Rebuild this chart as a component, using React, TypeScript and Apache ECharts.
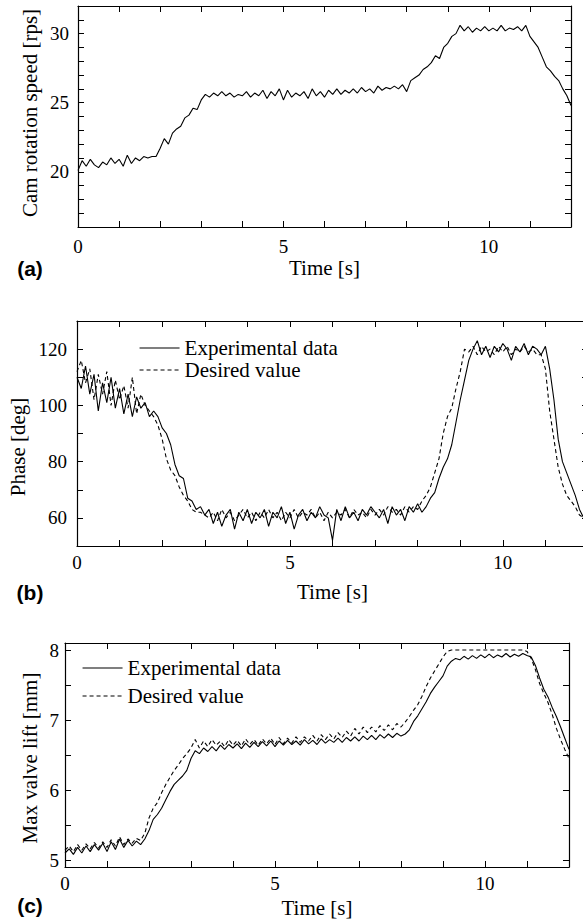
import React, { useEffect, useRef } from "react";
import * as echarts from "echarts";

const DT = 0.1;

// Panel (a): cam rotation speed [rps]
const camSpeed = [
  20.1, 20.8, 20.4, 20.9, 20.5, 20.3, 20.7, 20.5, 21.0, 20.6,
  20.9, 20.4, 21.2, 20.6, 21.0, 20.8, 21.1, 21.0, 21.1, 21.1,
  21.7, 22.4, 22.0, 22.8, 23.1, 23.3, 23.9, 24.1, 24.6, 24.5,
  25.2, 25.6, 25.4, 25.7, 25.5, 25.8, 25.5, 25.7, 25.4, 25.6,
  25.5, 25.8, 25.4, 25.7, 25.5, 25.9, 25.3, 25.8, 25.5, 26.0,
  25.2, 25.9, 25.4, 25.7, 25.5, 25.8, 25.3, 26.0, 25.5, 25.8,
  25.4, 25.9, 25.6, 26.0, 25.6, 25.9, 25.7, 26.0, 25.7, 26.1,
  25.8, 26.0, 25.7, 26.2, 25.9, 26.1, 26.0, 26.2, 26.0, 26.3,
  25.8, 26.6, 26.8, 27.0, 27.4, 27.6, 27.9, 28.4, 28.2, 29.0,
  29.3, 29.8, 30.0, 30.6, 30.2, 30.5, 30.1, 30.4, 30.2, 30.5,
  30.2, 30.4, 30.2, 30.6, 30.2, 30.4, 30.3, 30.5, 30.2, 30.6,
  29.8, 29.4, 29.0, 28.3, 27.6, 27.3, 26.9, 26.6, 26.0, 25.5,
  24.8,
];

// Panel (b): phase [deg]
const phaseExp = [
  110, 106, 114, 104, 111, 98, 108, 101, 110, 99,
  106, 97, 104, 96, 103, 99, 101, 96, 98, 96,
  92, 90, 86, 79, 75, 74, 67, 66, 63, 64,
  61, 63, 58, 62, 57, 61, 63, 56, 62, 59,
  63, 58, 62, 60, 63, 57, 62, 60, 64, 58,
  62, 56, 61, 63, 59, 62, 60, 64, 61, 60,
  52, 63, 59, 64, 60, 62, 59, 63, 61, 64,
  62, 60, 63, 58, 64, 61, 63, 59, 64, 62,
  65, 62, 64, 67, 69, 74, 78, 81, 86, 94,
  102, 109, 116, 120, 123, 118, 121, 117, 121, 119,
  122, 120, 116, 121, 119, 122, 118, 121, 120, 118,
  121, 113, 102, 88, 80, 76, 72, 68, 63, 60,
  58,
];
const phaseDes = [
  112, 116, 108, 113, 102, 111, 104, 112, 100, 109,
  102, 107, 99, 110, 97, 104, 100, 98, 96, 93,
  88, 81, 77, 75, 71, 68, 66, 63, 62, 62,
  61, 60, 62, 59, 63, 60, 62, 59, 61, 63,
  60, 62, 59, 62, 60, 63, 60, 62, 59, 62,
  60, 63, 60, 62, 61, 63, 60, 62, 59, 62,
  60, 62, 61, 63, 60, 63, 61, 62, 60, 63,
  61, 63, 61, 64, 62, 63, 61, 64, 62, 64,
  63, 66, 68, 71, 76, 81, 90, 96, 99, 106,
  112, 120, 119, 121, 118, 121, 119, 120, 118, 121,
  119, 121, 118, 120, 119, 121, 119, 120, 118, 118,
  113, 98, 88, 78, 72, 68, 66, 64, 61, 60,
  58,
];

// Panel (c): max valve lift [mm]
const liftExp = [
  5.10, 5.16, 5.08, 5.18, 5.10, 5.20, 5.12, 5.22, 5.14, 5.24,
  5.12, 5.26, 5.15, 5.30, 5.18, 5.28, 5.20, 5.27, 5.22, 5.30,
  5.42, 5.58, 5.65, 5.74, 5.86, 5.98, 6.08, 6.14, 6.20, 6.28,
  6.45, 6.56, 6.52, 6.60, 6.55, 6.62, 6.56, 6.64, 6.58, 6.65,
  6.60, 6.66, 6.59, 6.67, 6.61, 6.68, 6.62, 6.69, 6.63, 6.70,
  6.62, 6.70, 6.64, 6.71, 6.65, 6.70, 6.64, 6.72, 6.66, 6.71,
  6.65, 6.73, 6.67, 6.72, 6.68, 6.74, 6.68, 6.75, 6.70, 6.76,
  6.70, 6.77, 6.72, 6.78, 6.72, 6.79, 6.74, 6.80, 6.75, 6.81,
  6.77, 6.80, 6.86, 6.98, 7.06, 7.16, 7.26, 7.38, 7.47, 7.55,
  7.63, 7.77, 7.84, 7.88, 7.86, 7.91, 7.87, 7.92, 7.88, 7.93,
  7.89, 7.94, 7.89, 7.93, 7.90, 7.95, 7.90, 7.94, 7.91, 7.95,
  7.92, 7.90, 7.78, 7.60, 7.44, 7.33, 7.18, 7.05, 6.90, 6.74,
  6.58,
];
const liftDes = [
  5.14, 5.20, 5.12, 5.22, 5.14, 5.23, 5.16, 5.25, 5.17, 5.26,
  5.18, 5.29, 5.20, 5.33, 5.22, 5.30, 5.24, 5.31, 5.28, 5.38,
  5.60, 5.74, 5.82, 5.96, 6.08, 6.18, 6.28, 6.36, 6.45, 6.52,
  6.60, 6.72, 6.60, 6.70, 6.62, 6.72, 6.64, 6.70, 6.62, 6.72,
  6.64, 6.71, 6.63, 6.73, 6.65, 6.72, 6.64, 6.73, 6.66, 6.74,
  6.65, 6.75, 6.66, 6.74, 6.67, 6.76, 6.68, 6.76, 6.70, 6.78,
  6.70, 6.79, 6.72, 6.80, 6.73, 6.82, 6.75, 6.84, 6.77, 6.88,
  6.80, 6.90, 6.82, 6.90, 6.83, 6.92, 6.85, 6.93, 6.86, 6.95,
  6.90, 6.97, 7.05, 7.14, 7.22, 7.34, 7.48, 7.60, 7.70, 7.80,
  7.90, 7.98, 8.00, 8.00, 8.00, 8.00, 8.00, 8.00, 8.00, 8.00,
  8.00, 8.00, 8.00, 8.00, 8.00, 8.00, 8.00, 8.00, 8.00, 8.00,
  7.98, 7.88, 7.72, 7.52, 7.38, 7.25, 7.08, 6.88, 6.72, 6.58,
  6.45,
];

const timeLabels = [0, 5, 10];
const timeTicks = [0, 1, 2, 3, 4, 5, 6, 7, 8, 9, 10, 11, 12];
const speedLabels = [20, 25, 30];
const speedTicks = [16, 17, 18, 19, 20, 21, 22, 23, 24, 25, 26, 27, 28, 29, 30, 31, 32];
const phaseLabels = [60, 80, 100, 120];
const phaseTicks = [50, 60, 70, 80, 90, 100, 110, 120, 130];
const liftLabels = [5, 6, 7, 8];
const liftTicks = [5, 5.5, 6, 6.5, 7, 7.5, 8];

const SERIF = "'Liberation Serif', 'Times New Roman', serif";
const SANS = "'Liberation Sans', Arial, sans-serif";
const BLACK = "#000";

function toXY(arr: number[]) {
  return arr.map((v, i) => [Math.round(i * DT * 10) / 10, v]);
}

export default function App() {
  const ref = useRef<HTMLDivElement>(null);

  useEffect(() => {
    if (!ref.current) return;
    const chart = echarts.init(ref.current, null, { renderer: "svg" });

    const grids = [
      { left: 78, top: 6, width: 493, height: 221 },
      { left: 77, top: 321, width: 511, height: 225 },
      { left: 65, top: 643, width: 504, height: 224 },
    ].map((g) => ({ ...g, outerBoundsMode: "none", containLabel: false }));

    const axisLine = { show: true, onZero: false, lineStyle: { color: BLACK, width: 1.2 } };
    const tick = (vals: number[]) => ({
      show: true,
      inside: true,
      length: 6,
      customValues: vals,
      lineStyle: { color: BLACK, width: 1 },
    });
    const labelStyle = { fontFamily: SERIF, fontSize: 19, color: BLACK };

    const xBottom = (gi: number, margin: number, nameGap: number) => ({
      type: "value",
      gridIndex: gi,
      position: "bottom",
      min: 0,
      max: 12,
      axisLine,
      axisTick: tick(timeTicks),
      axisLabel: { ...labelStyle, margin, customValues: timeLabels },
      splitLine: { show: false },
      name: "Time [s]",
      nameLocation: "middle",
      nameGap,
      nameTextStyle: { fontFamily: SERIF, fontSize: 21, color: BLACK },
    });
    const xTop = (gi: number) => ({
      type: "value",
      gridIndex: gi,
      position: "top",
      min: 0,
      max: 12,
      axisLine,
      axisTick: tick(timeTicks),
      axisLabel: { show: false },
      splitLine: { show: false },
    });
    const yLeft = (gi: number, min: number, max: number, labels: number[], ticks: number[], margin: number) => ({
      type: "value",
      gridIndex: gi,
      position: "left",
      min,
      max,
      axisLine,
      axisTick: tick(ticks),
      axisLabel: { ...labelStyle, margin, customValues: labels },
      splitLine: { show: false },
    });
    const yRight = (gi: number, min: number, max: number, ticks: number[]) => ({
      type: "value",
      gridIndex: gi,
      position: "right",
      min,
      max,
      axisLine,
      axisTick: tick(ticks),
      axisLabel: { show: false },
      splitLine: { show: false },
    });

    const xAxis = [
      xBottom(0, 10, 30), xTop(0),
      xBottom(1, 7, 35), xTop(1),
      xBottom(2, 7, 30), xTop(2),
    ];
    const yAxis = [
      yLeft(0, 16, 32, speedLabels, speedTicks, 9), yRight(0, 16, 32, speedTicks),
      yLeft(1, 50, 130, phaseLabels, phaseTicks, 10), yRight(1, 50, 130, phaseTicks),
      yLeft(2, 4.9, 8.1, liftLabels, liftTicks, 6), yRight(2, 4.9, 8.1, liftTicks),
    ];

    const line = (name: string, data: number[], axisIdx: number, dashed: boolean) => ({
      type: "line",
      name,
      xAxisIndex: axisIdx,
      yAxisIndex: axisIdx,
      data: toXY(data),
      symbol: "none",
      showSymbol: false,
      smooth: false,
      clip: true,
      lineStyle: { color: BLACK, width: 1.1, type: dashed ? [4, 3] : "solid" },
      itemStyle: { color: BLACK },
      z: dashed ? 2 : 3,
    });

    const series = [
      line("Cam rotation speed", camSpeed, 0, false),
      line("Desired value", phaseDes, 2, true),
      line("Experimental data", phaseExp, 2, false),
      line("Desired value", liftDes, 4, true),
      line("Experimental data", liftExp, 4, false),
    ];

    const legendBase = {
      orient: "vertical",
      selectedMode: false,
      itemWidth: 40,
      itemHeight: 14,
      itemStyle: { opacity: 0 },
      lineStyle: { width: 1.1 },
      textStyle: { fontFamily: SERIF, fontSize: 21, color: BLACK, lineHeight: 22 },
      data: ["Experimental data", "Desired value"],
    };
    const legend = [
      { ...legendBase, left: 134, top: 332, itemGap: 0 },
      { ...legendBase, left: 77, top: 652, itemGap: 6 },
    ];

    const yTitle = (text: string, x: number, y: number) => ({
      type: "text",
      x,
      y,
      rotation: Math.PI / 2,
      style: {
        text,
        fontFamily: SERIF,
        fontSize: 21,
        fill: BLACK,
        align: "center",
        verticalAlign: "middle",
      },
    });
    const panelLabel = (text: string, x: number, y: number) => ({
      type: "text",
      x,
      y,
      style: {
        text,
        fontFamily: SANS,
        fontWeight: "bold",
        fontSize: 21,
        fill: BLACK,
        align: "center",
        verticalAlign: "middle",
      },
    });

    chart.setOption({
      animation: false,
      backgroundColor: "#fff",
      grid: grids,
      xAxis,
      yAxis,
      legend,
      series,
      graphic: [
        yTitle("Cam rotation speed [rps]", 30, 113),
        yTitle("Phase [deg]", 18, 447),
        yTitle("Max valve lift [mm]", 30, 758),
        panelLabel("(a)", 30, 268),
        panelLabel("(b)", 30, 592),
        panelLabel("(c)", 30, 905),
      ],
    });

    return () => {
      chart.dispose();
    };
  }, []);

  return (
    <div
      ref={ref}
      style={{ position: "absolute", left: 0, top: 0, width: 583, height: 919 }}
    />
  );
}
